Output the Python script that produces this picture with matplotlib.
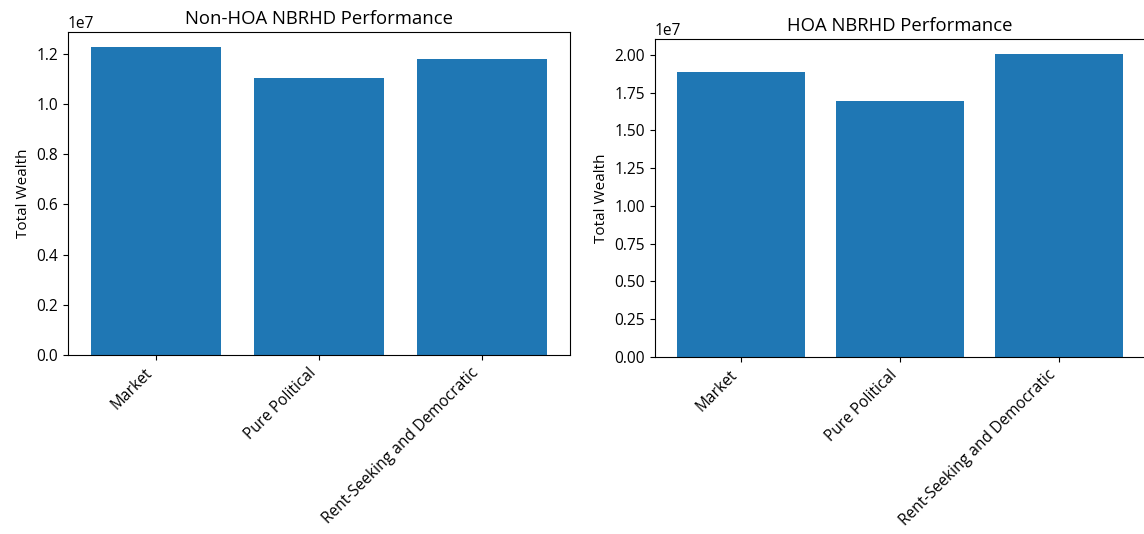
import matplotlib
matplotlib.use("Agg")
import matplotlib.pyplot as plt

plt.rcParams['font.family'] = ['Open Sans', 'DejaVu Sans']

# total wealth per governance regime, one list per neighbourhood type
regimes = ['Market', 'Pure Political', 'Rent-Seeking and Democratic']
non_hoa_wealth = [1.226e7, 1.104e7, 1.181e7]
hoa_wealth = [1.886e7, 1.697e7, 2.005e7]

fig = plt.figure(figsize=(11.44, 5.34), dpi=100)
ax1 = fig.add_axes([68 / 1144, 179 / 534, 502 / 1144, 323 / 534])
ax2 = fig.add_axes([655 / 1144, 177 / 534, 490 / 1144, 318 / 534])

for ax, wealth, title in [(ax1, non_hoa_wealth, 'Non-HOA NBRHD Performance'),
                          (ax2, hoa_wealth, 'HOA NBRHD Performance')]:
    ax.bar(regimes, wealth, color='#1f77b4')
    ax.set_title(title, fontsize=13.3)
    ax.set_ylabel('Total Wealth', fontsize=11)
    ax.tick_params(labelsize=11.2)
    ax.yaxis.get_offset_text().set_fontsize(11.2)
    plt.setp(ax.get_xticklabels(), rotation=45, ha='right')

fig.savefig('out.png', dpi=100)
